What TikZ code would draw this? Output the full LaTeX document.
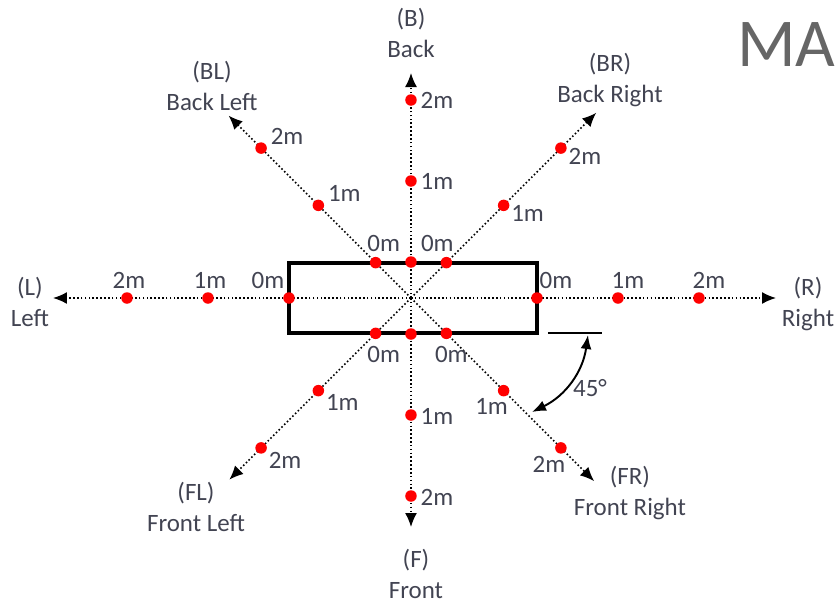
\documentclass[tikz,border=0pt]{standalone}
\usepackage{fontspec}
\setmainfont{Carlito}
\usepackage{tikz}
\usetikzlibrary{arrows.meta,calc,positioning}
\usepackage{xcolor}
\definecolor{txtgray}{RGB}{66,68,82}
\definecolor{titlegray}{RGB}{102,102,102}

\begin{document}
\begin{tikzpicture}[x=0.02cm,y=0.02cm,
    every node/.style={text=txtgray,font=\fontsize{14.2}{17.6}\selectfont},
    axis/.style={line width=0.9pt,dash pattern=on 0.9pt off 1.3pt,
      -{Latex[length=0.28cm,width=0.24cm]}},
    body/.style={line width=2.3pt},
    dot/.style={circle,fill=red,inner sep=0pt,minimum size=0.23cm},
    dirlabel/.style={align=center}]
  \useasboundingbox (-411,-305) rectangle (425,298);
  \coordinate (O) at (0,0);

  % axes, dots and 1m/2m marks
  \foreach \n/\a/\rz/\tip/\dx/\dy in {R/0/126/365/10/18, BR/45/50/262/24/-8,
      B/90/36/225/26/0, BL/135/50/258/26/12, L/180/122/358/2/18,
      FL/225/50/257/24/-12, F/270/36/229/26/-1, FR/315/50/259/-12/-16}
  {
    \coordinate (\n-tip) at (\a:\tip);
    \draw[axis] (O) -- (\n-tip);
  }
  \draw[body] (-122,-35) rectangle (126,35);
  \foreach \n/\a/\rz/\tip/\dx/\dy in {R/0/126/365/10/18, BR/45/50/262/24/-8,
      B/90/36/225/26/0, BL/135/50/258/26/12, L/180/122/358/2/18,
      FL/225/50/257/24/-12, F/270/36/229/26/-1, FR/315/50/259/-12/-16}
  {
    \foreach \k in {0,1,2}
      \node[dot] (\n\k) at (\a:{\rz+81*\k}) {};
    \foreach \k in {1,2}
      \node at ($(\n\k)+(\dx,\dy)$) {\k m};
  }

  % 0m marks
  \node at ($(R0)+(19,18)$) {0m};
  \node at ($(L0)+(-21,18)$) {0m};
  \node at ($(BL0)+(8,19)$) {0m};
  \node at ($(BR0)+(-9,19)$) {0m};
  \node at ($(FL0)+(8,-21)$) {0m};
  \node at ($(FR0)+(5,-21)$) {0m};

  % direction names
  \node[dirlabel] (Bname) at (0,265) {(B)\\Back};
  \node[dirlabel] (BLname) at (-199,212) {(BL)\\Back Left};
  \node[dirlabel] (BRname) at (199,218) {(BR)\\Back Right};
  \node[dirlabel] (Lname) at (-381,-4) {(L)\\Left};
  \node[dirlabel] (Rname) at (397,-6) {(R)\\Right};
  \node[dirlabel] (FLname) at (-215,-209) {(FL)\\Front Left};
  \node[dirlabel] (FRname) at (219,-195) {(FR)\\Front Right};
  \node[dirlabel] (Fname) at (5,-276) {(F)\\Front};

  % 45 degree mark
  \coordinate (ref-l) at (137,-35);
  \coordinate (ref-r) at (191,-35);
  \draw[line width=0.9pt] (ref-l) -- (ref-r);
  \coordinate (arc-a) at (177,-37);
  \coordinate (arc-b) at (121,-114);
  \draw[line width=1.1pt,{Latex[length=0.28cm,width=0.22cm]}-{Latex[length=0.28cm,width=0.22cm]}]
    (arc-a) to[bend left=28] (arc-b);
  \node (ang) at (179,-90) {45°};

  % title, cut at the edge
  \node[anchor=west,text=titlegray,inner sep=0pt,
    font=\fontsize{39}{42}\selectfont] (title) at (326,253) {MA};
\end{tikzpicture}
\end{document}
